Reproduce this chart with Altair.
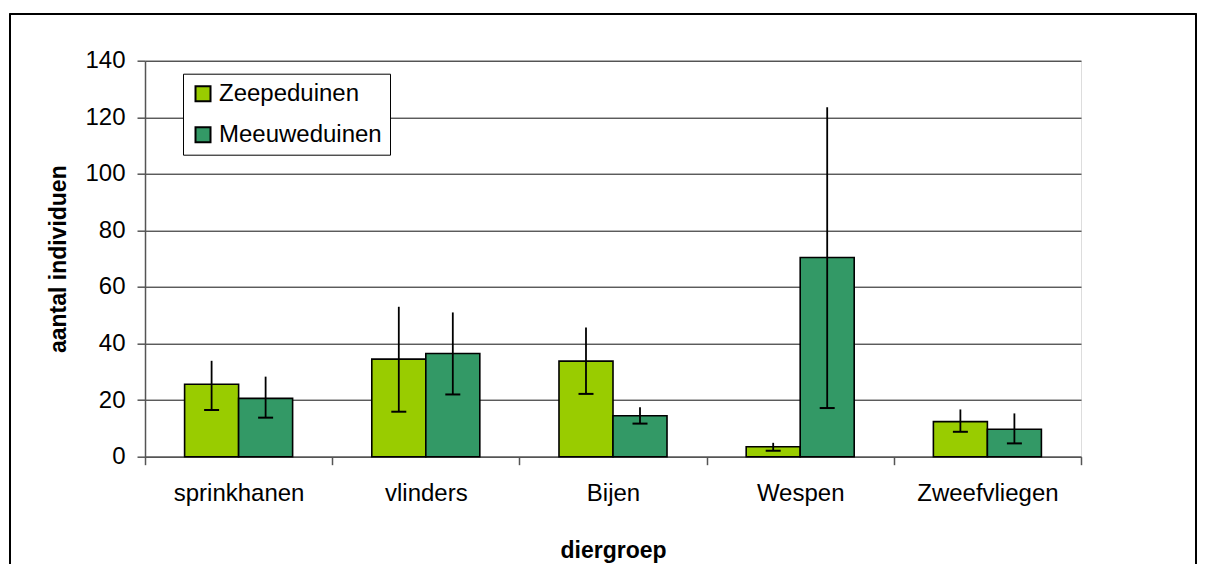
import altair as alt
import pandas as pd

categories = ["sprinkhanen", "vlinders", "Bijen", "Wespen", "Zweefvliegen"]
sites = ["Zeepeduinen", "Meeuweduinen"]
colors = ["#99CC00", "#339966"]

zeepe_mean = [25.6, 34.5, 33.8, 3.5, 12.4]
zeepe_low = [16.5, 15.9, 22.2, 2.1, 8.8]
zeepe_high = [33.9, 53.0, 45.7, 4.9, 16.7]

meeuwe_mean = [20.6, 36.5, 14.5, 70.4, 9.7]
meeuwe_low = [13.8, 22.0, 11.7, 17.2, 4.7]
meeuwe_high = [28.3, 51.0, 17.5, 123.5, 15.3]

y_ticks = [0, 20, 40, 60, 80, 100, 120, 140]

rows = []
for i, c in enumerate(categories):
    rows.append({"cat": c, "site": sites[0], "value": zeepe_mean[i], "lo": zeepe_low[i], "hi": zeepe_high[i]})
    rows.append({"cat": c, "site": sites[1], "value": meeuwe_mean[i], "lo": meeuwe_low[i], "hi": meeuwe_high[i]})
df = pd.DataFrame(rows)

FONT = "Liberation Sans"

x_scale = alt.Scale(paddingInner=0, paddingOuter=0)
xo_scale = alt.Scale(paddingInner=0, paddingOuter=0.733)

x_enc = alt.X(
    "cat:N", sort=categories, scale=x_scale,
    axis=alt.Axis(
        title="diergroep", labelAngle=0, tickBand="extent", tickSize=8,
        labelFontSize=24, labelPadding=36, labelBaseline="alphabetic",
        labelColor="#000", labelFont=FONT,
        domainColor="#555", domainWidth=1.5, tickColor="#555", tickWidth=1.5,
        titleFontSize=23, titleFontWeight="bold", titleFont=FONT, titleColor="#000",
        titleX=468, titleY=101, titleAlign="center", titleBaseline="alphabetic",
    ),
)
xo_enc = alt.XOffset("site:N", sort=sites, scale=xo_scale)

y_scale = alt.Scale(domain=[0, 140], nice=False)

bars = alt.Chart(df).mark_bar(stroke="#000", strokeWidth=1.6, opacity=1).encode(
    x=x_enc,
    xOffset=xo_enc,
    y=alt.Y(
        "value:Q", scale=y_scale,
        axis=alt.Axis(
            title="aantal individuen", values=y_ticks, tickSize=8, labelPadding=12,
            labelFontSize=24, labelFont=FONT, labelColor="#000",
            domainColor="#555", domainWidth=1.5, tickColor="#555", tickWidth=1.5,
            grid=True, gridColor="#111", gridWidth=1,
            titleFontSize=23, titleFontWeight="bold", titleFont=FONT, titleColor="#000",
            titleAngle=270, titleX=-80, titleY=198, titleAlign="center", titleBaseline="alphabetic",
        ),
    ),
    color=alt.Color(
        "site:N", sort=sites,
        scale=alt.Scale(domain=sites, range=colors),
        legend=alt.Legend(
            title=None, orient="none", legendX=38, legendY=13,
            fillColor="white", strokeColor="#000", padding=8,
            symbolType="square", symbolSize=225, symbolStrokeColor="#000",
            symbolStrokeWidth=2, symbolOpacity=1,
            labelFontSize=24, labelFont=FONT, labelColor="#000", labelOffset=4,
            labelLimit=400, rowPadding=17,
        ),
    ),
)

err_rule = alt.Chart(df).mark_rule(color="#000", strokeWidth=1.8).encode(
    x=alt.X("cat:N", sort=categories, scale=x_scale),
    xOffset=alt.XOffset("site:N", sort=sites, scale=xo_scale),
    y=alt.Y("lo:Q", scale=y_scale),
    y2="hi:Q",
)

err_cap = alt.Chart(df).mark_tick(color="#000", orient="horizontal", size=15, thickness=2, opacity=1).encode(
    x=alt.X("cat:N", sort=categories, scale=x_scale),
    xOffset=alt.XOffset("site:N", sort=sites, scale=xo_scale),
    y=alt.Y("lo:Q", scale=y_scale),
)

frame_left = alt.Chart(df).mark_rule(color="#000", strokeWidth=1.5).encode(
    x=alt.value(-135), y=alt.value(-47), y2=alt.value(700)
)
frame_top = alt.Chart(df).mark_rule(color="#000", strokeWidth=1.5).encode(
    x=alt.value(-135), x2=alt.value(1051), y=alt.value(-47)
)
frame_right = alt.Chart(df).mark_rule(color="#000", strokeWidth=1.5).encode(
    x=alt.value(1051), y=alt.value(-47), y2=alt.value(700)
)

chart = alt.layer(bars, err_rule, err_cap, frame_left, frame_top, frame_right).properties(
    width=936, height=396,
    autosize=alt.AutoSizeParams(type="none"),
    padding={"left": 137, "top": 52.7, "right": 116, "bottom": 107},
).configure_view(
    stroke="#888", strokeWidth=2
).configure(
    font=FONT, background="white"
)

chart.save("out.html", embed_options={"renderer": "svg", "actions": False})
